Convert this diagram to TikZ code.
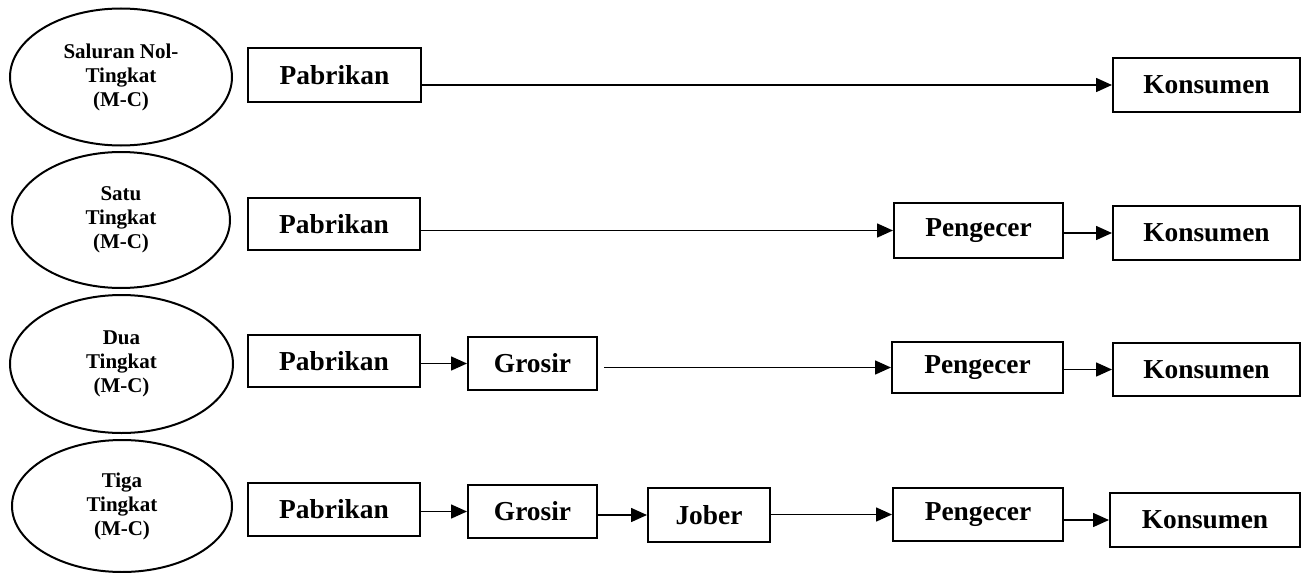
\documentclass[tikz,border=0pt]{standalone}
\usepackage{fontspec}
\setmainfont{Liberation Serif}
\usetikzlibrary{shapes.geometric,arrows.meta}
\begin{document}
\begin{tikzpicture}[x=0.5pt,y=-0.5pt,
  level/.style={draw, line width=1pt, ellipse, inner sep=0pt, align=center,
    font=\fontsize{10.5}{12}\selectfont\bfseries},
  box/.style={draw, line width=1pt, rectangle, inner sep=0pt,
    font=\fontsize{13.7}{16}\selectfont\bfseries},
  flow/.style={line width=0.8pt, -{Triangle[length=8pt,width=7pt]}}
]
\useasboundingbox (0,0) rectangle (1302,573);
% row 1
\node[level, minimum width=111pt, minimum height=68.5pt] (e1) at (121,77) {Saluran Nol-\\Tingkat\\(M-C)};
\node[box, minimum width=86.5pt, minimum height=27pt] (p1) at (334.5,75) {Pabrikan};
\node[box, minimum width=93.5pt, minimum height=27pt] (k1) at (1206.5,85) {Konsumen};
\draw[flow] (p1.east |- k1.west) -- (k1.west);
% row 2
\node[level, minimum width=109pt, minimum height=68pt] (e2) at (121,220) {Satu\\Tingkat\\(M-C)};
\node[box, minimum width=86pt, minimum height=26pt] (p2) at (334,224) {Pabrikan};
\node[box, minimum width=84.5pt, minimum height=27.5pt] (pe2) at (978.5,230.5) {Pengecer};
\node[box, minimum width=93.5pt, minimum height=27pt] (k2) at (1206.5,233) {Konsumen};
\draw[flow] (p2.east |- pe2.west) -- (pe2.west);
\draw[flow] (pe2.east |- k2.west) -- (k2.west);
% row 3
\node[level, minimum width=111.5pt, minimum height=69pt] (e3) at (121.5,364) {Dua\\Tingkat\\(M-C)};
\node[box, minimum width=86pt, minimum height=26pt] (p3) at (334,361) {Pabrikan};
\node[box, minimum width=64.5pt, minimum height=26.5pt] (g3) at (532.5,363.5) {Grosir};
\node[box, minimum width=85.5pt, minimum height=25.5pt] (pe3) at (977.5,367.5) {Pengecer};
\node[box, minimum width=93.5pt, minimum height=26.5pt] (k3) at (1206.5,369.5) {Konsumen};
\draw[flow] (p3.east |- g3.west) -- (g3.west);
\draw[flow] ([xshift=3pt]g3.east |- pe3.west) -- (pe3.west);
\draw[flow] (pe3.east |- k3.west) -- (k3.west);
% row 4
\node[level, minimum width=110pt, minimum height=66pt] (e4) at (122,506) {Tiga\\Tingkat\\(M-C)};
\node[box, minimum width=86pt, minimum height=26.5pt] (p4) at (334,509.5) {Pabrikan};
\node[box, minimum width=64.5pt, minimum height=26.5pt] (g4) at (532.5,511.5) {Grosir};
\node[box, minimum width=61pt, minimum height=27pt] (j4) at (709,515) {Jober};
\node[box, minimum width=85pt, minimum height=26.5pt] (pe4) at (978,514.5) {Pengecer};
\node[box, minimum width=95pt, minimum height=27pt] (k4) at (1205,520) {Konsumen};
\draw[flow] (p4.east |- g4.west) -- (g4.west);
\draw[flow] (g4.east |- j4.west) -- (j4.west);
\draw[flow] (j4.east |- pe4.west) -- (pe4.west);
\draw[flow] (pe4.east |- k4.west) -- (k4.west);
\end{tikzpicture}
\end{document}
